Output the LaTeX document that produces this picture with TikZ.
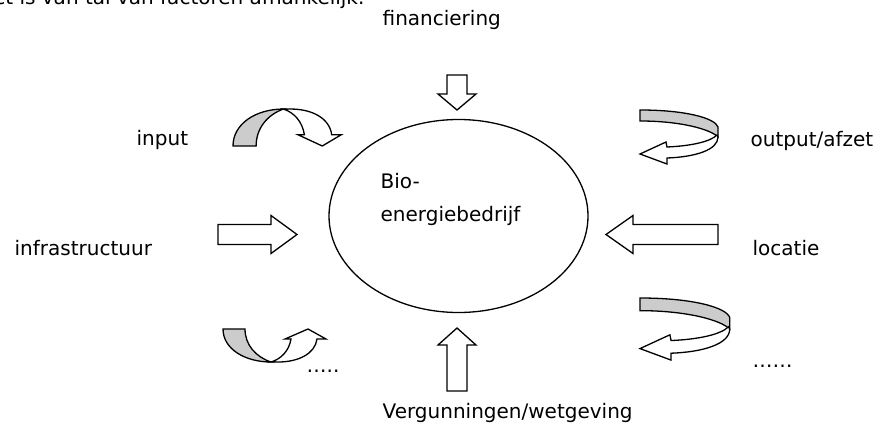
\documentclass[tikz,border=0pt]{standalone}
\usepackage{fontspec}
\setmainfont{DejaVu Sans}
\usepackage{xcolor}
\usetikzlibrary{shapes.geometric, calc}
\tikzset{
    lbl/.style = {anchor=base west, inner sep=0pt},
    pics/blockarrow/.style 2 args = {
        code = {%
        \coordinate (-tail) at (0,0);
        \coordinate (-tip) at (#1,0);
        \draw[fill=white] (0,-10) -- ({#1-#2},-10) -- ({#1-#2},-19) -- (#1,0)
            -- ({#1-#2},19) -- ({#1-#2},10) -- (0,10) -- cycle;
        }
    },
    pics/bendarrow/.style = {
        code = {%
        \draw[fill=black!20] (0,0) -- (22,0) .. controls (22,16) and (33,28) .. (48,33)
            .. controls (22,33) and (0,20) .. (0,0) -- cycle;
        \draw[fill=white] (48,33) .. controls (58,30) and (66,22) .. (68,10) -- (62,10)
            -- (85,0) -- (103,10) -- (94,10) .. controls (92,25) and (75,33) .. (55,33) -- cycle;
        }
    },
    pics/looparrow/.style = {
        code = {%
        \draw[fill=black!20] (0,0) .. controls (45,0) and (75,8) .. (78,17) -- (78,27)
            .. controls (70,19) and (40,11) .. (0,11) -- cycle;
        \draw[fill=white] (77,25) .. controls (70,32) and (50,36) .. (27,37) -- (26,32)
            -- (0,44) -- (27,54) -- (27,48) .. controls (55,47) and (78,40) .. (78,27) -- cycle;
        }
    },
}

\begin{document}
\begin{tikzpicture}[x=1pt, y=-1pt, line width=1.3pt, line join=miter,
    every node/.style={font=\fontsize{20}{24}\selectfont}]
\useasboundingbox (0,0) rectangle (877,425);

\node[anchor=base east, inner sep=0pt] (intro) at (365,5) {project is van tal van factoren afhankelijk.};

\node[ellipse, draw, minimum width=259pt, minimum height=193pt, inner sep=0pt] (bedrijf) at (458.5,216) {};
\node[lbl] (bio) at (380,188) {Bio-};
\node[lbl] (energie) at (380,221) {energiebedrijf};

\node[lbl] (fin) at (382,26) {financiering};
\pic[rotate=-90] (F) at (457,75) {blockarrow={35}{16}};

\node[lbl] (verg) at (382,418) {Vergunningen/wetgeving};
\pic[rotate=90] (V) at (457,391) {blockarrow={63}{17}};

\node[lbl] (infra) at (14,255) {infrastructuur};
\pic (I) at (218,234.5) {blockarrow={79}{26}};

\node[lbl] (loc) at (752,255) {locatie};
\pic[rotate=180] (L) at (718,234.5) {blockarrow={112}{27}};

\node[lbl] (input) at (136,145) {input};
\pic[xscale=1.05, yscale=-1.12] at (233,146) {bendarrow};

\node[lbl] (dotsl) at (306,372) {…..};
\pic at (223,329) {bendarrow};

\node[lbl] (output) at (750,146) {output/afzet};
\pic at (640,110) {looparrow};

\node[lbl] (dotsr) at (752,367) {……};
\pic[scale=1.15] at (640,298) {looparrow};
\end{tikzpicture}
\end{document}
